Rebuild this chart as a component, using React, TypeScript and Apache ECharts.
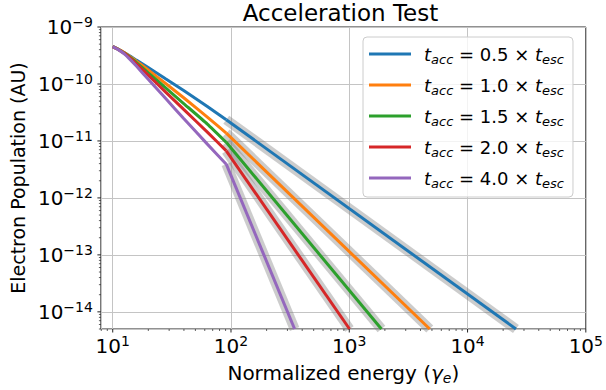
import React, { useEffect, useRef } from 'react';
import * as echarts from 'echarts';

// ---- data ----
const ratioLabels = ['0.5', '1.0', '1.5', '2.0', '4.0'];
const seriesColors = ['#1f77b4', '#ff7f0e', '#2ca02c', '#d62728', '#9467bd'];

// curved (numerical) part of each spectrum
const curveEnergy = [10, 11.22, 12.59, 14.13, 15.85, 19.95, 28.18, 39.81, 63.1, 91.2];
const curve05 = [4.51e-10, 4.02e-10, 3.52e-10, 3.05e-10, 2.62e-10, 1.94e-10, 1.22e-10, 7.67e-11, 4.03e-11, 2.36e-11];
const curve10 = [4.51e-10, 4.04e-10, 3.52e-10, 2.99e-10, 2.52e-10, 1.76e-10, 1.01e-10, 5.73e-11, 2.62e-11, 1.37e-11];
const curve15 = [4.51e-10, 4.02e-10, 3.46e-10, 2.89e-10, 2.38e-10, 1.57e-10, 8.43e-11, 4.53e-11, 1.98e-11, 9.46e-12];
const curve20 = [4.51e-10, 3.99e-10, 3.42e-10, 2.81e-10, 2.26e-10, 1.43e-10, 7.14e-11, 3.58e-11, 1.43e-11, 6.7e-12];
const curve40 = [4.51e-10, 3.97e-10, 3.34e-10, 2.65e-10, 2.06e-10, 1.21e-10, 5.48e-11, 2.48e-11, 8.79e-12, 3.91e-12];

// power-law tail: from the last curve point to where it leaves the plot
const tailEndEnergy = [25650, 4790, 1870, 1005, 345];
const tailEndPopulation = [5e-15, 5e-15, 5e-15, 5e-15, 5e-15];

// axes
const xMin = 7.943;
const xMax = 1e5;
const yMin = 5e-15;
const yMax = 1e-9;
const xMajorTicks = [10, 100, 1000, 10000, 100000];
const yMajorTicks = [1e-14, 1e-13, 1e-12, 1e-11, 1e-10, 1e-9];
const minorMultipliers = [2, 3, 4, 5, 6, 7, 8, 9];
const xMinorDecades = [1, 10, 100, 1000, 10000];
const yMinorDecades = [1e-15, 1e-14, 1e-13, 1e-12, 1e-11, 1e-10];

const curves = [curve05, curve10, curve15, curve20, curve40];
const FONT = "'DejaVu Sans', sans-serif";

function expLabel(v: number) {
  const l = Math.log10(v);
  const e = Math.round(l);
  if (Math.abs(l - e) > 0.01) return '';
  const s = e < 0 ? '\u2212' + String(-e) : String(e);
  return `{b|10}{s|${s}}`;
}

export default function App() {
  const ref = useRef<HTMLDivElement>(null);
  useEffect(() => {
    if (!ref.current) return;
    const chart = echarts.init(ref.current, undefined, { renderer: 'svg' });

    const xMinor: number[][] = [];
    xMinorDecades.forEach((d) => minorMultipliers.forEach((m) => {
      const v = d * m;
      if (v >= xMin && v <= xMax) xMinor.push([v, yMin, 2]);
    }));
    const yMinor: number[][] = [];
    yMinorDecades.forEach((d) => minorMultipliers.forEach((m) => {
      const v = d * m;
      if (v >= yMin && v <= yMax) yMinor.push([xMin, v, 2]);
    }));
    const xTicks = xMinor.concat(xMajorTicks.map((v) => [v, yMin, 3.5]));
    const yTicks = yMinor.concat(yMajorTicks.map((v) => [xMin, v, 3.5]));

    const series: any[] = [];
    curves.forEach((c, i) => {
      const last = c.length - 1;
      series.push({
        type: 'line',
        name: 'fit' + i,
        silent: true,
        symbol: 'none',
        z: 2,
        lineStyle: { color: 'rgba(128,128,128,0.4)', width: 10 },
        data: [[curveEnergy[last], c[last]], [tailEndEnergy[i], tailEndPopulation[i]]],
      });
    });
    curves.forEach((c, i) => {
      const last = c.length - 1;
      const nm = ratioLabels[i];
      series.push({
        type: 'line',
        name: nm,
        symbol: 'none',
        smooth: 0.15,
        z: 4,
        color: seriesColors[i],
        lineStyle: { color: seriesColors[i], width: 3 },
        data: curveEnergy.map((x, j) => [x, c[j]]),
      });
      series.push({
        type: 'line',
        name: nm,
        symbol: 'none',
        z: 4,
        color: seriesColors[i],
        lineStyle: { color: seriesColors[i], width: 3 },
        data: [[curveEnergy[last], c[last]], [tailEndEnergy[i], tailEndPopulation[i]]],
      });
    });
    series.push({
      type: 'custom',
      name: 'xticks',
      silent: true,
      clip: false,
      z: 10,
      data: xTicks,
      renderItem: (params: any, api: any) => {
        const p = api.coord([api.value(0), api.value(1)]);
        const len = api.value(2);
        return {
          type: 'line',
          shape: { x1: p[0], y1: p[1], x2: p[0], y2: p[1] + len },
          style: { stroke: '#222', lineWidth: len > 3 ? 1 : 0.7 },
        };
      },
    });
    series.push({
      type: 'custom',
      name: 'yticks',
      silent: true,
      clip: false,
      z: 10,
      data: yTicks,
      renderItem: (params: any, api: any) => {
        const p = api.coord([api.value(0), api.value(1)]);
        const len = api.value(2);
        return {
          type: 'line',
          shape: { x1: p[0], y1: p[1], x2: p[0] - len, y2: p[1] },
          style: { stroke: '#222', lineWidth: len > 3 ? 1 : 0.7 },
        };
      },
    });

    const tickRich = {
      b: { fontFamily: FONT, fontSize: 20, color: '#000', lineHeight: 24 },
      s: { fontFamily: FONT, fontSize: 14, color: '#000', verticalAlign: 'top' },
    };

    chart.setOption({
      animation: false,
      title: {
        text: 'Acceleration Test',
        left: 340.5,
        top: 1,
        padding: 0,
        textAlign: 'center',
        textStyle: { fontFamily: FONT, fontSize: 23, lineHeight: 24, fontWeight: 'normal', color: '#000' },
      },
      grid: {
        left: 94, right: 19, top: 27, bottom: 59,
        show: true, borderColor: '#222', borderWidth: 1, backgroundColor: 'transparent',
      },
      legend: {
        data: ratioLabels,
        orient: 'vertical',
        left: 363,
        top: 37,
        icon: 'rect',
        itemWidth: 42,
        itemHeight: 3,
        itemGap: 7,
        padding: [5, 9, 7, 6],
        backgroundColor: 'rgba(255,255,255,0.8)',
        borderColor: '#cccccc',
        borderWidth: 1,
        borderRadius: 4,
        selectedMode: false,
        formatter: (name: string) => `{i0|t}{sub|acc}{n| = ${name} \u00d7 }{i|t}{sub|esc}`,
        textStyle: {
          fontFamily: FONT, fontSize: 18, lineHeight: 24, color: '#000',
          rich: {
            i0: { fontFamily: FONT, fontSize: 18, fontStyle: 'italic', lineHeight: 24, padding: [0, 0, 0, 8] },
            i: { fontFamily: FONT, fontSize: 18, fontStyle: 'italic', lineHeight: 24 },
            n: { fontFamily: FONT, fontSize: 18, lineHeight: 24 },
            sub: { fontFamily: FONT, fontSize: 13, fontStyle: 'italic', verticalAlign: 'bottom' },
          },
        },
      },
      xAxis: {
        type: 'log',
        logBase: 10,
        min: xMin,
        max: xMax,
        name: '{n|Normalized energy (}{g|\u03b3}{sub|e}{n|)}',
        nameLocation: 'middle',
        nameGap: 32,
        nameTextStyle: {
          fontFamily: FONT, fontSize: 20, color: '#000', lineHeight: 24,
          rich: {
            n: { fontFamily: FONT, fontSize: 20, lineHeight: 24 },
            g: { fontFamily: FONT, fontSize: 20, fontStyle: 'italic', lineHeight: 24 },
            sub: { fontFamily: FONT, fontSize: 14, fontStyle: 'italic', verticalAlign: 'bottom' },
          },
        },
        axisLine: { show: false },
        axisTick: { show: false },
        axisLabel: { margin: 5, formatter: expLabel, rich: tickRich },
        splitLine: { show: true, lineStyle: { color: '#c4c4c4', width: 1 } },
        minorTick: { show: false },
      },
      yAxis: {
        type: 'log',
        logBase: 10,
        min: yMin,
        max: yMax,
        name: 'Electron Population (AU)',
        nameLocation: 'middle',
        nameGap: 64,
        nameTextStyle: { fontFamily: FONT, fontSize: 19, color: '#000' },
        axisLine: { show: false },
        axisTick: { show: false },
        axisLabel: { margin: 8, formatter: expLabel, rich: tickRich },
        splitLine: { show: true, lineStyle: { color: '#c4c4c4', width: 1 } },
        minorTick: { show: false },
      },
      series,
    });
    return () => chart.dispose();
  }, []);
  return <div ref={ref} style={{ width: 606, height: 390, position: 'absolute', left: 0, top: 0 }} />;
}
